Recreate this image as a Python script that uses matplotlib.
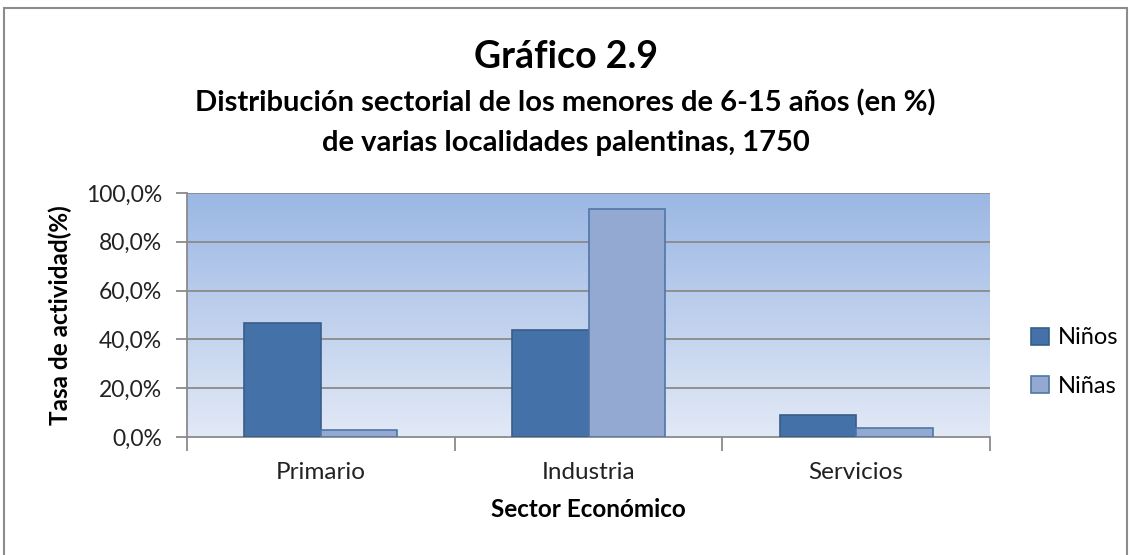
import matplotlib.pyplot as plt
from matplotlib.patches import Rectangle
import numpy as np

plt.rcParams['font.family'] = ['Lato', 'DejaVu Sans']

sectores = ['Primario', 'Industria', 'Servicios']
ninos = [46.8, 43.9, 9.0]
ninas = [2.9, 93.3, 3.8]
yticks = [0, 20, 40, 60, 80, 100]
ytick_labels = ['0,0%', '20,0%', '40,0%', '60,0%', '80,0%', '100,0%']

fig = plt.figure(figsize=(11.31, 5.55), dpi=100)
ax = fig.add_axes([187/1131, 1-437/555, (990-187)/1131, (437-193)/555])

# fondo degradado del area de trazado
grad = np.linspace(0, 1, 256).reshape(-1, 1)
top = np.array([0x9B, 0xB7, 0xE4]) / 255
bot = np.array([0xE2, 0xE9, 0xF6]) / 255
img = top[None, None, :] * (1 - grad[:, :, None]) + bot[None, None, :] * grad[:, :, None]
ax.imshow(img, extent=[0, 1, 0, 1], transform=ax.transAxes, aspect='auto', zorder=0)

x = np.arange(len(sectores))
w = 0.286
ax.bar(x - w/2, ninos, w, color='#4472A8', edgecolor='#385D8A', linewidth=1.2, label='Niños', zorder=3)
ax.bar(x + w/2, ninas, w, color='#94A9D1', edgecolor='#4F76A8', linewidth=1.2, label='Niñas', zorder=3)

ax.set_xlim(-0.5, 2.5)
ax.set_ylim(0, 100)
ax.set_yticks(yticks)
ax.set_yticklabels(ytick_labels, fontsize=16.5, color='#222222')
for yv in yticks[1:]:
    ax.axhline(yv, color='#8A8A8A', linewidth=1.3, zorder=2)

ax.set_xticks(x)
ax.set_xticklabels(sectores, fontsize=17.5, color='#222222')
ax.tick_params(axis='x', length=0, pad=18)
ax.set_xticks([-0.5, 0.5, 1.5, 2.5], minor=True)
ax.tick_params(axis='x', which='minor', length=10, color='#8A8A8A', width=1.3)
ax.tick_params(axis='y', length=8, color='#8A8A8A', width=1.3, pad=10)

for s in ['top', 'right']:
    ax.spines[s].set_visible(False)
for s in ['left', 'bottom']:
    ax.spines[s].set_color('#8A8A8A')
    ax.spines[s].set_linewidth(1.3)

ax.set_ylabel('Tasa de actividad(%)', fontsize=17.5, fontweight='bold', labelpad=10)
ax.set_xlabel('Sector Económico', fontsize=17.5, fontweight='bold', labelpad=11)

fig.text(0.5, 1-57/555, 'Gráfico 2.9', ha='center', va='center', fontsize=27, fontweight='bold')
fig.text(0.5, 1-103/555, 'Distribución sectorial de los menores de 6-15 años (en %)',
         ha='center', va='center', fontsize=21, fontweight='bold')
fig.text(0.5, 1-143/555, 'de varias localidades palentinas, 1750',
         ha='center', va='center', fontsize=21, fontweight='bold')

fig.legend(loc='center left', bbox_to_anchor=(1031/1131, 1-362/555), frameon=False,
           fontsize=17, handlelength=0.75, handleheight=0.75, handletextpad=0.4,
           labelspacing=1.15, borderpad=0, borderaxespad=0)

fig.patches.append(Rectangle((4/1131, -0.05), 1123/1131, 1.05 - 8/555, transform=fig.transFigure,
                             fill=False, edgecolor='#8C8C8C', linewidth=1.5))

fig.savefig('out.png', dpi=100)
